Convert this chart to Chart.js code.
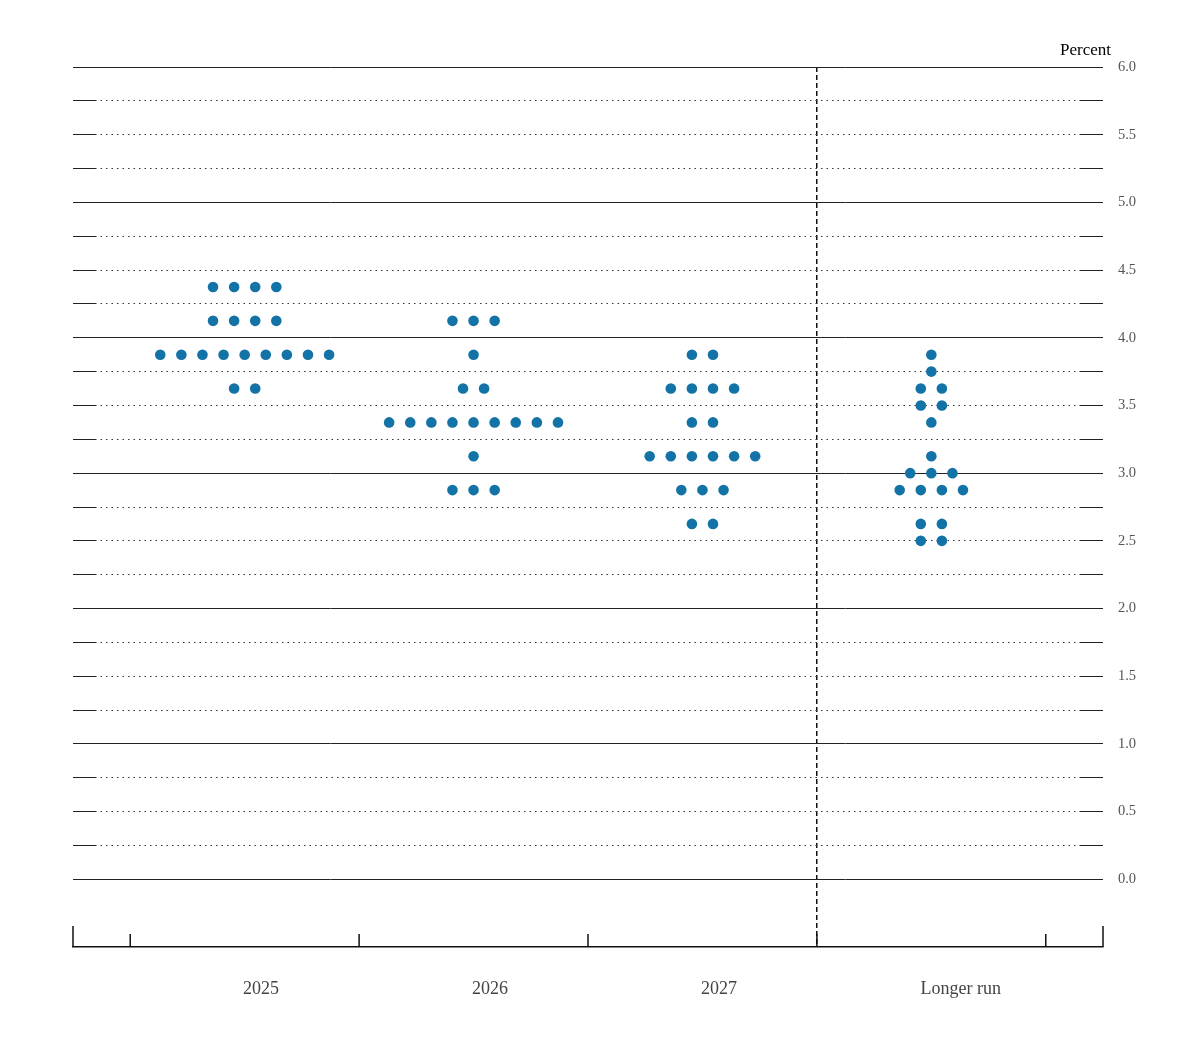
<!DOCTYPE html>
<html>
<head>
<meta charset="utf-8">
<script src="https://cdn.jsdelivr.net/npm/chart.js@4.4.1/dist/chart.umd.min.js"></script>
<style>
  html, body { margin: 0; padding: 0; background: #fff; }
  canvas { display: block; }
</style>
</head>
<body>
<canvas id="dotplot" width="1200" height="1063"></canvas>
<script>
// categories and midpoints of target ranges (percent) with number of participants
const categories = ["2025", "2026", "2027", "Longer run"];

const rates2025 = [4.375, 4.125, 3.875, 3.625];
const counts2025 = [4, 4, 9, 2];

const rates2026 = [4.125, 3.875, 3.625, 3.375, 3.125, 2.875];
const counts2026 = [3, 1, 2, 9, 1, 3];

const rates2027 = [3.875, 3.625, 3.375, 3.125, 2.875, 2.625];
const counts2027 = [2, 4, 2, 6, 3, 2];

const ratesLonger = [3.875, 3.75, 3.625, 3.5, 3.375, 3.125, 3.0, 2.875, 2.625, 2.5];
const countsLonger = [1, 1, 2, 2, 1, 1, 3, 4, 2, 2];

const yTickLabels = ["0.0", "0.5", "1.0", "1.5", "2.0", "2.5", "3.0", "3.5", "4.0", "4.5", "5.0", "5.5", "6.0"];

// layout
const dotGap = 0.0922;
const labelPos = [1.071, 2.072, 3.072, 4.129];
const markPos = [0.25, 0.5, 1.5, 2.5, 3.5, 4.5, 4.75];
const splitAt = 3.5;

const spread = (center, rates, counts) => {
  const pts = [];
  rates.forEach((r, i) => {
    const n = counts[i];
    for (let k = 0; k < n; k++) {
      pts.push({ x: center + (k - (n - 1) / 2) * dotGap, y: r });
    }
  });
  return pts;
};

const points = [
  ...spread(1, rates2025, counts2025),
  ...spread(2, rates2026, counts2026),
  ...spread(3, rates2027, counts2027),
  ...spread(4, ratesLonger, countsLonger),
];

const near = (a, b) => Math.abs(a - b) < 1e-6;
const isInt = (v) => near(v, Math.round(v));
const align = (p) => Math.round(p - 0.5) + 0.5;

// short solid dashes at both ends of each grid line, and upward ticks on the bottom axis
const edgeTicks = {
  id: "edgeTicks",
  beforeDatasetsDraw(chart) {
    const { ctx, chartArea, scales } = chart;
    const x = scales.x;
    const y = scales.y;
    ctx.save();
    ctx.strokeStyle = "#222";
    ctx.lineWidth = 1;
    ctx.beginPath();
    y.ticks.forEach((t) => {
      const py = align(y.getPixelForValue(t.value));
      ctx.moveTo(chartArea.left, py);
      ctx.lineTo(chartArea.left + 22, py);
      ctx.moveTo(chartArea.right - 23, py);
      ctx.lineTo(chartArea.right, py);
    });
    ctx.stroke();

    ctx.strokeStyle = "#111";
    ctx.lineWidth = 1.5;
    ctx.beginPath();
    markPos.forEach((v) => {
      const px = x.getPixelForValue(v);
      const len = near(v, x.min) || near(v, x.max) ? 21 : 13;
      ctx.moveTo(px, chartArea.bottom);
      ctx.lineTo(px, chartArea.bottom - len);
    });
    ctx.stroke();
    ctx.restore();
  },
};

const ctx = document.querySelector("#dotplot").getContext("2d");

new Chart(ctx, {
  type: "scatter",
  data: {
    datasets: [
      {
        data: points,
        backgroundColor: "#1372a6",
        borderWidth: 0,
        pointRadius: 5.3,
        pointHoverRadius: 5.3,
      },
    ],
  },
  options: {
    responsive: false,
    animation: false,
    layout: { padding: { left: 73, right: 89, top: 40, bottom: 0 } },
    plugins: {
      legend: { display: false },
      tooltip: { enabled: false },
      title: {
        display: true,
        text: "Percent",
        align: "end",
        color: "#000",
        font: { family: "Liberation Serif", size: 17, weight: "normal" },
        padding: { top: 0, bottom: 6.6 },
      },
    },
    scales: {
      x: {
        type: "linear",
        min: 0.25,
        max: 4.75,
        afterBuildTicks: (s) => {
          s.ticks = [...markPos, ...labelPos].sort((a, b) => a - b).map((v) => ({ value: v }));
        },
        afterFit: (s) => {
          s.height = 116;
        },
        grid: {
          drawTicks: false,
          lineWidth: 1.5,
          color: (c) => (c.tick && near(c.tick.value, splitAt) ? "#111" : "rgba(0,0,0,0)"),
        },
        border: {
          display: true,
          color: "#111",
          width: 1.5,
          dash: (c) => (c.tick && near(c.tick.value, splitAt) ? [5, 3] : []),
        },
        ticks: {
          autoSkip: false,
          maxRotation: 0,
          padding: 31,
          color: "#444",
          font: { family: "Liberation Serif", size: 18 },
          callback: (v) => {
            const i = labelPos.findIndex((p) => near(p, v));
            return i >= 0 ? categories[i] : "";
          },
        },
      },
      y: {
        position: "right",
        min: -0.5,
        max: 6,
        afterBuildTicks: (s) => {
          const t = [];
          for (let v = 0; v <= 6; v += 0.25) t.push({ value: v });
          s.ticks = t;
        },
        afterFit: (s) => {
          s.width = 8;
        },
        grid: {
          drawTicks: false,
          lineWidth: 1,
          color: (c) => (c.tick && isInt(c.tick.value) ? "#222" : "#333"),
        },
        border: {
          display: false,
          dash: (c) => (c.tick && !isInt(c.tick.value) ? [1.5, 4] : []),
        },
        ticks: {
          mirror: true,
          padding: 33,
          color: "#555",
          font: { family: "Liberation Serif", size: 14.5 },
          callback: (v) => {
            const i = Math.round(v * 2);
            return near(v * 2, i) ? yTickLabels[i] : "";
          },
        },
      },
    },
  },
  plugins: [edgeTicks],
});
</script>
</body>
</html>
